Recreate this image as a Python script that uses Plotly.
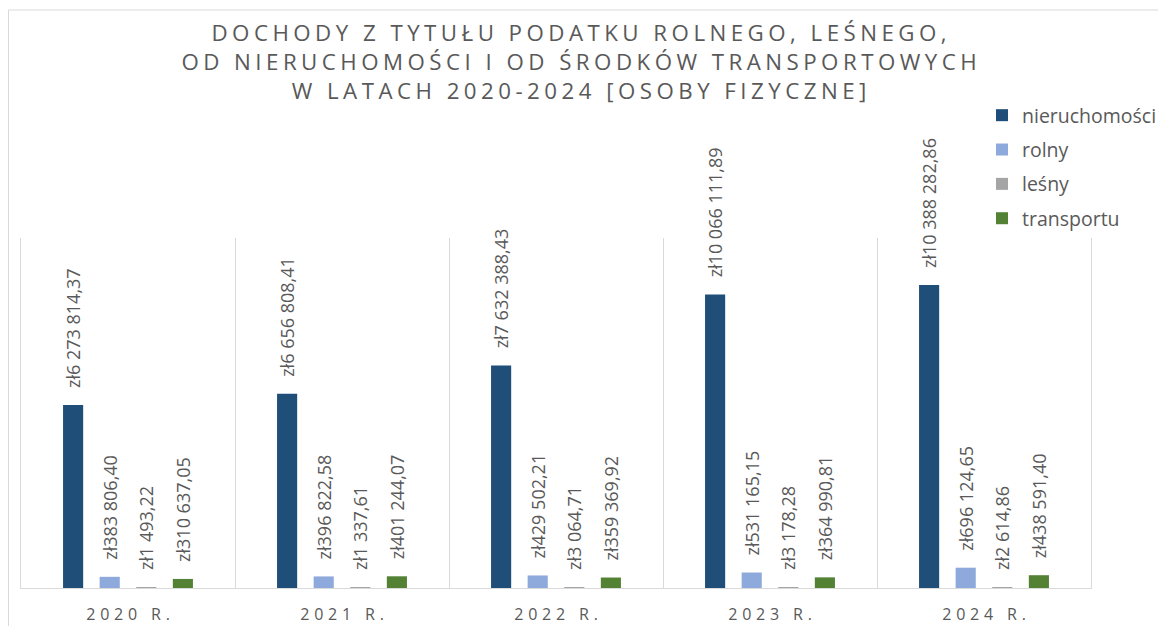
import plotly.graph_objects as go

years = ["2020 r.", "2021 r.", "2022 r.", "2023 r.", "2024 r."]
series_names = ["nieruchomości", "rolny", "leśny", "transportu"]
nieruchomosci = [6273814.37, 6656808.41, 7632388.43, 10066111.89, 10388282.86]
rolny = [383806.40, 396822.58, 429502.21, 531165.15, 696124.65]
lesny = [1493.22, 1337.61, 3064.71, 3178.28, 2614.86]
transportu = [310637.05, 401244.07, 359369.92, 364990.81, 438591.40]
colors = ["#1F4E79", "#8EA9DB", "#A5A5A5", "#548235"]

title_lines = [
    "DOCHODY Z TYTUŁU PODATKU ROLNEGO, LEŚNEGO,",
    "OD NIERUCHOMOŚCI I OD ŚRODKÓW TRANSPORTOWYCH",
    "W LATACH 2020-2024 [OSOBY FIZYCZNE]",
]

HAIR = "\u200a"
NBSP = "\u00a0"


def spaced(s, n=1):
    return (HAIR * n).join(s)


def pln(v):
    s = f"{v:,.2f}"
    s = s.replace(",", " ").replace(".", ",")
    return "zł" + s


GRAY_TXT = "#595959"
GRID = "#D9D9D9"

# page body has an 8px margin: figure is sized to fit the window exactly
W, H = 1158, 618
L, T, PW, PH = 13, 230, 1070, 350

fig = go.Figure()
for name, vals, col in zip(series_names, [nieruchomosci, rolny, lesny, transportu], colors):
    fig.add_trace(go.Bar(
        name=name,
        x=years,
        y=vals,
        marker=dict(color=col, line=dict(width=0)),
        text=[pln(v) for v in vals],
        texttemplate=NBSP * 3 + "%{text}",
        textposition="outside",
        textangle=-90,
        textfont=dict(family="Open Sans", size=18, color=GRAY_TXT),
        cliponaxis=False,
        constraintext="none",
        legendgroup=name,
        hoverinfo="skip",
    ))

fig.update_layout(
    width=W,
    height=H,
    margin=dict(l=L, r=W - L - PW, t=T, b=H - T - PH, pad=0, autoexpand=False),
    paper_bgcolor="white",
    plot_bgcolor="white",
    barmode="group",
    bargap=0.316,
    bargroupgap=0.45,
    title=dict(
        text="<br>".join(spaced(t, 2) for t in title_lines),
        font=dict(family="Open Sans", size=22.3, color=GRAY_TXT),
        x=571 / W,
        xanchor="center",
        xref="container",
        yref="container",
        y=1 - 33 / H,
        yanchor="top",
    ),
    legend=dict(
        x=(974 - L) / PW,
        xanchor="left",
        y=(T + PH - 88) / PH,
        yanchor="top",
        font=dict(family="Open Sans", size=19.5, color=GRAY_TXT),
        tracegroupgap=6,
        bgcolor="rgba(0,0,0,0)",
    ),
    xaxis=dict(
        tickmode="array",
        tickvals=years,
        ticktext=[spaced(y.upper(), 3) for y in years],
        tickfont=dict(family="Open Sans", size=16, color=GRAY_TXT),
        tickson="boundaries",
        showgrid=True,
        gridcolor=GRID,
        gridwidth=1,
        showline=True,
        linecolor=GRID,
        linewidth=1,
        ticks="",
        ticklabelstandoff=12,
        automargin=False,
    ),
    yaxis=dict(
        range=[0, 12000000],
        showgrid=False,
        showticklabels=False,
        zeroline=False,
        showline=True,
        mirror=True,
        linecolor=GRID,
        linewidth=1,
        ticks="",
        automargin=False,
    ),
    shapes=[dict(
        type="rect", xref="paper", yref="paper",
        x0=(0.5 - L) / PW, x1=1.3, y0=-0.5, y1=(T + PH - 2) / PH,
        line=dict(color=GRID, width=1), fillcolor="rgba(0,0,0,0)", layer="below",
    )],
)

fig.write_html("out.html")
